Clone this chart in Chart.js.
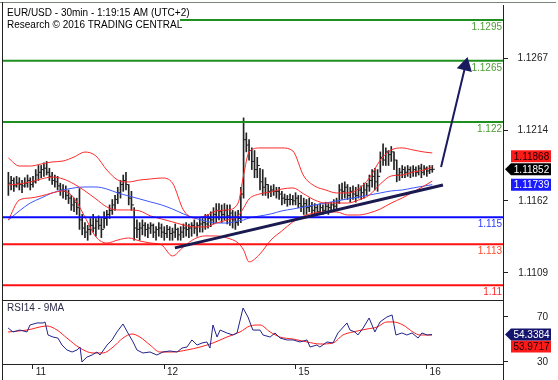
<!DOCTYPE html>
<html><head><meta charset="utf-8">
<script src="https://cdn.jsdelivr.net/npm/chart.js@4.4.0/dist/chart.umd.min.js"></script>
<style>
html,body{margin:0;padding:0;background:#fff;overflow:hidden}
#wrap{position:relative;width:558px;height:380px;background:#fff}
#c1{position:absolute;left:0;top:0}
#c2{position:absolute;left:0;top:300px}
</style></head><body>
<div id="wrap">
<canvas id="c1" width="558" height="301" style="width:558px;height:301px"></canvas>
<canvas id="c2" width="558" height="80" style="width:558px;height:80px"></canvas>
</div>
<script>
// ---------------- DATA ----------------
const headerLine1 = 'EUR/USD - 30min - 1:19:15 AM (UTC+2)';
const headerLine2 = 'Research \u00A9 2016 TRADING CENTRAL';
const rsiTitle = 'RSI14 - 9MA';

const dayTicks = [0, 48, 96, 144];            // bar index of each day start
const dayLabels = ['11', '12', '15', '16'];
const priceTicks = [1.1267, 1.1214, 1.1162, 1.1109];
const rsiTicks = [70, 30];

const barStart = -9;   // bar index of first 30-min bar
const highs = [
1.1183,1.1180,1.1179,1.1180,1.1179,1.1177,1.1179,1.1181,1.1179,1.1180,
1.1185,1.1188,1.1188,1.1190,1.1191,1.1186,1.1183,1.1181,1.1180,1.1175,
1.1174,1.1173,1.1170,1.1166,1.1164,1.1164,1.1171,1.1152,1.1146,1.1144,
1.1149,1.1152,1.1149,1.1151,1.1149,1.1154,1.1155,1.1159,1.1163,1.1166,
1.1172,1.1177,1.1181,1.1183,1.1174,1.1169,1.1157,1.1148,1.1146,1.1148,
1.1146,1.1145,1.1146,1.1145,1.1143,1.1146,1.1145,1.1143,1.1144,1.1143,
1.1142,1.1145,1.1142,1.1143,1.1145,1.1146,1.1145,1.1146,1.1148,1.1146,
1.1149,1.1149,1.1152,1.1152,1.1154,1.1157,1.1160,1.1160,1.1159,1.1160,
1.1159,1.1159,1.1155,1.1154,1.1155,1.1172,1.1223,1.1212,1.1207,1.1201,
1.1199,1.1194,1.1186,1.1185,1.1179,1.1174,1.1173,1.1174,1.1172,1.1172,
1.1169,1.1167,1.1166,1.1167,1.1166,1.1168,1.1166,1.1166,1.1164,1.1163,
1.1164,1.1161,1.1160,1.1159,1.1160,1.1159,1.1161,1.1160,1.1161,1.1163,
1.1164,1.1174,1.1175,1.1176,1.1174,1.1172,1.1173,1.1172,1.1174,1.1173,
1.1175,1.1175,1.1181,1.1185,1.1186,1.1185,1.1198,1.1204,1.1201,1.1199,
1.1202,1.1198,1.1192,1.1186,1.1188,1.1187,1.1188,1.1187,1.1188,1.1187,
1.1188,1.1189,1.1188,1.1187,1.1188,1.1188];
const lows = [
1.1166,1.1170,1.1169,1.1172,1.1170,1.1168,1.1172,1.1172,1.1170,1.1172,
1.1175,1.1177,1.1179,1.1180,1.1181,1.1177,1.1174,1.1172,1.1170,1.1166,
1.1164,1.1163,1.1160,1.1155,1.1154,1.1152,1.1141,1.1137,1.1135,1.1133,
1.1137,1.1139,1.1136,1.1141,1.1135,1.1142,1.1144,1.1149,1.1152,1.1155,
1.1160,1.1164,1.1169,1.1170,1.1159,1.1155,1.1133,1.1135,1.1133,1.1137,
1.1136,1.1135,1.1138,1.1135,1.1133,1.1136,1.1135,1.1133,1.1135,1.1133,
1.1133,1.1135,1.1133,1.1133,1.1135,1.1136,1.1135,1.1136,1.1138,1.1136,
1.1139,1.1139,1.1141,1.1142,1.1143,1.1145,1.1146,1.1148,1.1146,1.1148,
1.1145,1.1144,1.1142,1.1141,1.1144,1.1146,1.1164,1.1198,1.1192,1.1185,
1.1179,1.1179,1.1170,1.1166,1.1166,1.1164,1.1165,1.1166,1.1164,1.1163,
1.1159,1.1160,1.1158,1.1159,1.1159,1.1159,1.1157,1.1154,1.1152,1.1152,
1.1154,1.1152,1.1152,1.1152,1.1152,1.1152,1.1154,1.1152,1.1154,1.1154,
1.1155,1.1160,1.1163,1.1164,1.1163,1.1161,1.1163,1.1161,1.1164,1.1163,
1.1164,1.1166,1.1169,1.1172,1.1170,1.1169,1.1183,1.1188,1.1188,1.1188,
1.1191,1.1185,1.1176,1.1177,1.1179,1.1179,1.1180,1.1179,1.1180,1.1180,
1.1181,1.1179,1.1181,1.1180,1.1182,1.1183];
const closes = [
1.1175,1.1177,1.1173,1.1175,1.1174,1.1173,1.1175,1.1177,1.1174,1.1176,
1.1181,1.1183,1.1185,1.1186,1.1183,1.1180,1.1177,1.1176,1.1173,1.1170,
1.1169,1.1166,1.1164,1.1159,1.1161,1.1157,1.1148,1.1142,1.1139,1.1141,
1.1144,1.1142,1.1147,1.1144,1.1141,1.1149,1.1152,1.1155,1.1159,1.1163,
1.1168,1.1174,1.1177,1.1174,1.1164,1.1159,1.1142,1.1141,1.1142,1.1144,
1.1141,1.1142,1.1144,1.1139,1.1141,1.1142,1.1139,1.1138,1.1141,1.1138,
1.1139,1.1141,1.1137,1.1139,1.1142,1.1141,1.1142,1.1144,1.1142,1.1144,
1.1145,1.1146,1.1145,1.1149,1.1148,1.1152,1.1155,1.1154,1.1152,1.1155,
1.1151,1.1153,1.1148,1.1146,1.1149,1.1167,1.1207,1.1203,1.1199,1.1191,
1.1185,1.1188,1.1176,1.1172,1.1174,1.1169,1.1170,1.1169,1.1169,1.1167,
1.1164,1.1163,1.1163,1.1163,1.1162,1.1164,1.1160,1.1158,1.1160,1.1157,
1.1158,1.1155,1.1157,1.1154,1.1157,1.1155,1.1158,1.1157,1.1159,1.1158,
1.1161,1.1170,1.1169,1.1172,1.1166,1.1169,1.1167,1.1166,1.1170,1.1168,
1.1170,1.1173,1.1177,1.1180,1.1176,1.1180,1.1194,1.1192,1.1198,1.1196,
1.1198,1.1192,1.1181,1.1183,1.1185,1.1183,1.1185,1.1183,1.1185,1.1183,
1.1186,1.1183,1.1186,1.1184,1.1185,1.11852];

const bandIdx = [-9,-5,-1,3,7,11,15,19,23,27,31,35,39,43,47,51,55,59,63,67,71,75,77,79,83,87,91,95,99,103,107,111,115,119,123,127,131,135,139,143,146];
const bbUpper = [1.11935,1.11876,1.11876,1.11891,1.11906,1.11913,1.11942,1.11979,1.11950,1.11847,1.11773,1.11759,1.11773,1.11781,1.11788,1.11751,1.11553,1.11494,1.11509,1.11546,1.11553,1.11604,1.11810,1.11979,1.12009,1.12009,1.12009,1.11987,1.11803,1.11729,1.11700,1.11678,1.11678,1.11707,1.11788,1.11920,1.11994,1.12009,1.11994,1.11979,1.11972];
const bbMiddle = [1.11737,1.11744,1.11759,1.11781,1.11795,1.11781,1.11744,1.11693,1.11634,1.11575,1.11553,1.11553,1.11546,1.11509,1.11487,1.11465,1.11443,1.11428,1.11428,1.11457,1.11479,1.11509,1.11568,1.11634,1.11671,1.11685,1.11707,1.11715,1.11671,1.11626,1.11604,1.11604,1.11604,1.11626,1.11663,1.11744,1.11803,1.11810,1.11832,1.11847,1.11868];
const bbLower = [1.11479,1.11626,1.11641,1.11656,1.11678,1.11693,1.11641,1.11501,1.11355,1.11310,1.11332,1.11347,1.11325,1.11310,1.11296,1.11215,1.11281,1.11340,1.11362,1.11362,1.11347,1.11310,1.11259,1.11171,1.11230,1.11332,1.11399,1.11465,1.11509,1.11531,1.11538,1.11538,1.11516,1.11516,1.11531,1.11560,1.11604,1.11641,1.11685,1.11729,1.11766];
const maBlue = [1.11479,1.11546,1.11604,1.11641,1.11678,1.11700,1.11715,1.11722,1.11722,1.11707,1.11678,1.11656,1.11634,1.11612,1.11590,1.11560,1.11524,1.11494,1.11472,1.11457,1.11457,1.11472,1.11479,1.11494,1.11509,1.11524,1.11546,1.11560,1.11575,1.11590,1.11604,1.11619,1.11634,1.11648,1.11663,1.11678,1.11693,1.11700,1.11715,1.11729,1.11739];

const levelValues = [1.1295, 1.1265, 1.122, 1.115, 1.113, 1.11];
const levelLabels = ['1.1295', '1.1265', '1.122', '1.115', '1.113', '1.11'];

const trendX = [51.9, 149.9];
const trendY = [1.11274, 1.11737];
const arrowX = [149.2, 158.1];
const arrowY = [1.11869, 1.12613];

const rsiX = [-9.1,-7.3,-4.8,-2.2,-1.1,1.5,3.7,4.4,5.5,7.3,9.1,10.6,12.4,14.3,16.1,17.2,17.9,19.7,21.6,23.4,24.5,27.1,28.9,30.7,32.9,34.7,36.6,38.0,40.2,42.8,45.3,47.5,50.1,52.7,54.5,56.3,58.1,60.0,61.8,63.6,64.7,65.8,67.3,68.4,70.9,73.1,74.6,76.8,78.6,80.4,83.0,84.1,86.7,88.5,90.3,92.9,95.1,97.6,100.2,101.3,103.8,104.9,107.5,109.7,111.5,114.8,115.9,117.7,118.8,120.7,122.9,125.0,126.9,129.4,131.3,132.7,134.9,136.7,138.6,140.8,142.2,144.1,145.9];
const rsiValues = [60.2,56.7,58.4,56.7,62.9,64.7,64.7,65.6,54.0,52.2,51.3,45.1,40.7,38.9,40.7,43.3,30.0,34.4,36.2,38.9,36.2,45.1,49.6,56.7,63.8,55.8,47.8,40.7,38.0,38.9,36.2,38.9,39.8,38.9,42.4,43.3,49.6,45.1,46.9,47.8,42.4,62.9,52.2,58.4,55.8,54.0,55.8,78.0,70.0,58.4,58.4,54.0,52.2,55.8,51.3,49.6,49.6,47.8,49.6,43.3,45.1,43.3,47.8,46.9,55.8,64.7,58.4,56.7,54.0,60.2,69.1,56.7,65.6,70.0,71.8,54.0,55.8,54.0,55.8,51.3,55.8,54.0,54.3384];
const rsiMaX = [-9.1,-2.2,5.1,8.8,12.4,17.2,21.9,25.6,29.3,32.9,36.2,39.1,42.8,46.4,51.2,56.3,61.1,65.8,70.9,75.7,79.3,83.0,86.7,90.3,95.1,100.2,104.9,109.7,113.3,117.0,122.1,125.8,129.4,131.6,135.3,138.9,141.5,145.9];
const rsiMaValues = [56.7,58.4,62.0,58.4,51.3,42.4,38.0,38.0,43.3,51.3,54.9,52.2,45.1,38.9,38.9,40.7,43.3,46.9,52.2,56.7,62.0,62.9,56.7,52.2,50.4,47.8,46.0,46.9,54.0,56.7,59.3,61.1,65.6,65.6,62.9,56.7,54.0,53.9717];

// ---------------- STYLE / LAYOUT ----------------
const FONT = "'Liberation Sans', Arial, sans-serif";
const X_MIN = -11.33, X_MAX = 171.85;
const levelLineColors = ['#1f8f1f','#1f8f1f','#1f8f1f','#0a0aff','#ff1010','#ff1010'];
const levelTextColors = ['#4c9c34','#4c9c34','#4c9c34','#2a3cff','#ff4a2a','#ff2a2a'];
Chart.defaults.font.family = FONT;
Chart.defaults.font.size = 10;

const pts = (xs, ys) => xs.map((x, k) => ({x: x, y: ys[k]}));
function hline(ctx, x1, y1, x2, y2) { ctx.beginPath(); ctx.moveTo(x1, y1); ctx.lineTo(x2, y2); ctx.stroke(); }
function valueBox(ctx, yC, fill, text, tcol, pointer) {
  const h = 12;
  ctx.fillStyle = fill;
  ctx.beginPath();
  if (pointer) {
    ctx.moveTo(505, yC); ctx.lineTo(511, yC - h / 2); ctx.lineTo(551, yC - h / 2);
    ctx.lineTo(551, yC + h / 2); ctx.lineTo(511, yC + h / 2); ctx.closePath();
  } else {
    ctx.rect(511, yC - h / 2, 40, h);
  }
  ctx.fill();
  ctx.fillStyle = tcol; ctx.font = '10px ' + FONT;
  ctx.textAlign = 'center'; ctx.textBaseline = 'middle';
  ctx.fillText(text, 531.5, yC + 0.5);
}
function axisLabels(ctx, scale, values, fmt) {
  ctx.fillStyle = '#222'; ctx.font = '10px ' + FONT;
  ctx.textAlign = 'right'; ctx.textBaseline = 'middle';
  values.forEach(v => ctx.fillText(fmt(v), 548, scale.getPixelForValue(v) + 0.5));
}

const mainOverlay = {
  id: 'mainOverlay',
  afterDraw(chart) {
    const ctx = chart.ctx, y = chart.scales.y;
    ctx.save();
    ctx.lineWidth = 1;
    ctx.strokeStyle = '#7a857a'; hline(ctx, 0, 2.5, 556, 2.5);
    ctx.strokeStyle = '#222';
    hline(ctx, 2.5, 2, 2.5, 301);
    hline(ctx, 503.5, 5, 503.5, 301);
    hline(ctx, 2, 300.5, 504, 300.5);
    axisLabels(ctx, y, priceTicks, v => v.toFixed(4));
    ctx.font = '10px ' + FONT; ctx.textAlign = 'right'; ctx.textBaseline = 'alphabetic';
    levelValues.forEach((v, k) => {
      ctx.fillStyle = levelTextColors[k];
      ctx.fillText(levelLabels[k], 502, y.getPixelForValue(v) + 10);
    });
    ctx.fillStyle = '#fff'; ctx.fillRect(3, 3, 177, 28);
    ctx.fillStyle = '#000'; ctx.textAlign = 'left';
    ctx.fillText(headerLine1, 7, 16);
    ctx.fillText(headerLine2, 7, 28);
    const lastClose = closes[closes.length - 1];
    const lastMid = bbMiddle[bbMiddle.length - 1];
    const lastMa = maBlue[maBlue.length - 1];
    const yClose = y.getPixelForValue(lastClose);
    let yMid = y.getPixelForValue(lastMid);
    if (Math.abs(yMid - yClose) < 13) yMid = yClose - 13;
    let yMa = y.getPixelForValue(lastMa);
    if (Math.abs(yMa - yClose) < 13) yMa = yClose + 13;
    valueBox(ctx, yMid, '#ff1a1a', lastMid.toFixed(5), '#1a0000', false);
    valueBox(ctx, yMa, '#1a1aff', lastMa.toFixed(5), '#fff', false);
    valueBox(ctx, yClose, '#000', lastClose.toFixed(5), '#fff', true);
    ctx.restore();
  }
};

const rsiOverlay = {
  id: 'rsiOverlay',
  afterDraw(chart) {
    const ctx = chart.ctx, y = chart.scales.y;
    ctx.save();
    ctx.lineWidth = 1; ctx.strokeStyle = '#222';
    hline(ctx, 2.5, 0, 2.5, 80);
    hline(ctx, 503.5, 0, 503.5, 80);
    hline(ctx, 2, 0.5, 504, 0.5);
    hline(ctx, 2, 64.5, 504, 64.5);
    axisLabels(ctx, y, rsiTicks, v => String(v));
    ctx.fillStyle = '#2b2b48'; ctx.font = '10px ' + FONT;
    ctx.textAlign = 'left'; ctx.textBaseline = 'alphabetic';
    ctx.fillText(rsiTitle, 7, 11);
    const lastRsi = rsiValues[rsiValues.length - 1];
    const lastMa = rsiMaValues[rsiMaValues.length - 1];
    const yR = y.getPixelForValue(lastRsi);
    let yM = y.getPixelForValue(lastMa);
    if (Math.abs(yM - yR) < 12) yM = yR + 12;
    valueBox(ctx, yM, '#ff1a1a', lastMa.toFixed(4), '#1a0000', false);
    valueBox(ctx, yR, '#14146e', lastRsi.toFixed(4), '#fff', true);
    ctx.restore();
  }
};

const levelDatasets = levelValues.map((v, k) => ({
  type: 'line', data: [{x: X_MIN, y: v}, {x: X_MAX, y: v}],
  borderColor: levelLineColors[k], borderWidth: 2, pointRadius: 0, order: 2
}));

const yAxisCommon = {
  type: 'linear', position: 'right',
  afterFit: s => { s.width = 55; s.paddingTop = 0; s.paddingBottom = 0; },
  grid: { drawOnChartArea: false, tickLength: 5, color: '#222' },
  border: { display: false },
  ticks: { display: false }
};

new Chart(document.getElementById('c1'), {
  type: 'bar',
  data: {
    datasets: [
      { type: 'bar', data: highs.map((h, k) => ({x: barStart + k, y: [lows[k], h]})),
        backgroundColor: '#222', barThickness: 1, grouped: false, order: 6 },
      { type: 'line', data: closes.map((c, k) => ({x: barStart + k + 0.5, y: c})),
        showLine: false, pointStyle: 'line', pointRadius: 1.2, pointBorderWidth: 1,
        pointBorderColor: '#222', order: 5 },
      { type: 'line', data: pts(bandIdx, maBlue), borderColor: '#3d55ff', borderWidth: 1,
        pointRadius: 0, cubicInterpolationMode: 'monotone', order: 4 },
      { type: 'line', data: pts(bandIdx, bbUpper), borderColor: '#ff2a2a', borderWidth: 1,
        pointRadius: 0, cubicInterpolationMode: 'monotone', order: 3 },
      { type: 'line', data: pts(bandIdx, bbMiddle), borderColor: '#ff2a2a', borderWidth: 1,
        pointRadius: 0, cubicInterpolationMode: 'monotone', order: 3 },
      { type: 'line', data: pts(bandIdx, bbLower), borderColor: '#ff2a2a', borderWidth: 1,
        pointRadius: 0, cubicInterpolationMode: 'monotone', order: 3 },
      ...levelDatasets,
      { type: 'line', data: pts(trendX, trendY), borderColor: '#1a1a50', borderWidth: 3,
        pointRadius: 0, order: 1 },
      { type: 'line', data: pts(arrowX, arrowY), borderColor: '#1a1a5e', borderWidth: 2,
        pointRadius: [0, 7], pointStyle: 'triangle', pointRotation: 14,
        pointBackgroundColor: '#1a1a5e', pointBorderColor: '#1a1a5e', order: 0 }
    ]
  },
  options: {
    responsive: false, animation: false, events: [],
    layout: { autoPadding: false, padding: { left: 2, top: 5, right: 0, bottom: 1 } },
    plugins: { legend: { display: false }, tooltip: { enabled: false } },
    scales: {
      x: { type: 'linear', min: X_MIN, max: X_MAX, display: false, offset: false },
      y: Object.assign({}, yAxisCommon, { min: 1.10891, max: 1.13060,
        afterBuildTicks: s => { s.ticks = priceTicks.map(v => ({value: v})); } })
    }
  },
  plugins: [mainOverlay]
});

new Chart(document.getElementById('c2'), {
  type: 'line',
  data: {
    datasets: [
      { data: pts(rsiMaX, rsiMaValues), borderColor: '#ff2020', borderWidth: 1, pointRadius: 0,
        cubicInterpolationMode: 'monotone', order: 2 },
      { data: pts(rsiX, rsiValues), borderColor: '#23238a', borderWidth: 1, pointRadius: 0,
        tension: 0, order: 1 }
    ]
  },
  options: {
    responsive: false, animation: false, events: [],
    layout: { autoPadding: false, padding: { left: 2, top: 0, right: 0, bottom: 0 } },
    plugins: { legend: { display: false }, tooltip: { enabled: false } },
    scales: {
      x: { type: 'linear', min: X_MIN, max: X_MAX, offset: false,
        afterBuildTicks: s => { s.ticks = dayTicks.map(v => ({value: v})); },
        afterFit: s => { s.height = 16; s.paddingLeft = 0; s.paddingRight = 0; },
        grid: { drawOnChartArea: false, tickLength: 5, color: '#222' },
        border: { display: false },
        ticks: { autoSkip: false, maxRotation: 0, align: 'start', padding: -3, color: '#222',
          callback: v => ' ' + dayLabels[dayTicks.indexOf(v)], font: { size: 10 } } },
      y: Object.assign({}, yAxisCommon, { min: 28.22, max: 85.11,
        afterBuildTicks: s => { s.ticks = rsiTicks.map(v => ({value: v})); } })
    }
  },
  plugins: [rsiOverlay]
});
</script>
</body></html>
